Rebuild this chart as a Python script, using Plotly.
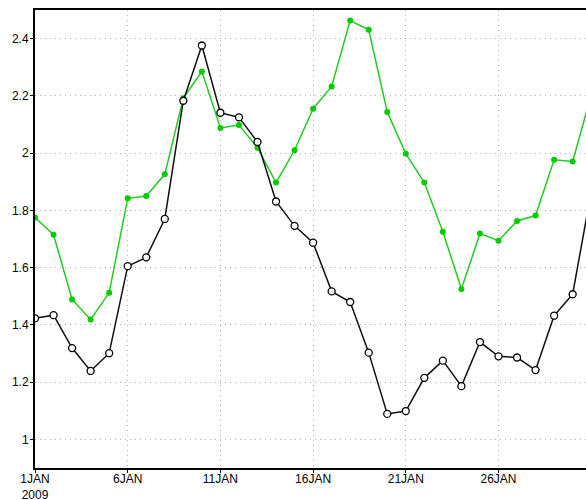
import plotly.graph_objects as go
import pandas as pd

days = pd.date_range("2009-01-01", "2009-01-31", freq="D")
black_vals = [1.423, 1.434, 1.319, 1.239, 1.301, 1.605, 1.636, 1.770, 2.183, 2.376,
              2.141, 2.125, 2.039, 1.831, 1.746, 1.687, 1.517, 1.480, 1.303, 1.089,
              1.099, 1.215, 1.275, 1.186, 1.340, 1.290, 1.286, 1.242, 1.432, 1.507, 1.865]
green_vals = [1.775, 1.715, 1.489, 1.419, 1.512, 1.842, 1.850, 1.926, 2.192, 2.285,
              2.088, 2.098, 2.019, 1.897, 2.010, 2.155, 2.233, 2.463, 2.431, 2.144,
              1.998, 1.897, 1.725, 1.525, 1.719, 1.694, 1.763, 1.782, 1.977, 1.971, 2.203]
x_tickvals = ["2009-01-01", "2009-01-06", "2009-01-11", "2009-01-16", "2009-01-21", "2009-01-26"]
x_ticktext = ["1JAN<br>2009", "6JAN", "11JAN", "16JAN", "21JAN", "26JAN"]
y_tickvals = [1, 1.2, 1.4, 1.6, 1.8, 2, 2.2, 2.4]
y_ticktext = ["1", "1.2", "1.4", "1.6", "1.8", "2", "2.2", "2.4"]

fig = go.Figure()
fig.add_trace(go.Scatter(
    x=days, y=green_vals, mode="lines+markers",
    line=dict(color="#22cc22", width=1.5),
    marker=dict(color="#00cc00", size=6, symbol="circle"),
    showlegend=False))
fig.add_trace(go.Scatter(
    x=days, y=black_vals, mode="lines+markers",
    line=dict(color="#111111", width=1.5),
    marker=dict(color="white", size=7, symbol="circle",
                line=dict(color="black", width=1.3)),
    showlegend=False))

x_end = pd.Timestamp("2009-01-01") + pd.Timedelta(days=29.72)
fig.update_layout(
    width=586, height=500,
    margin=dict(l=35, r=0, t=10, b=32),
    plot_bgcolor="white", paper_bgcolor="white",
    font=dict(family="Liberation Sans, Arial, sans-serif", size=12, color="black"),
)
grid = dict(showgrid=True, gridcolor="#b0b0b0", griddash="1px,4px", gridwidth=1,
            showline=True, linecolor="black", linewidth=2, mirror=True,
            ticks="outside", ticklen=3, tickcolor="black", zeroline=False,
            automargin=False)
fig.update_xaxes(
    range=[pd.Timestamp("2009-01-01"), x_end],
    tickvals=x_tickvals, ticktext=x_ticktext, ticklabelstandoff=-4, **grid)
fig.update_yaxes(
    range=[0.9, 2.5],
    tickvals=y_tickvals, ticktext=y_ticktext, ticklabelstandoff=-1, **grid)
fig.write_html("out.html", config={"displayModeBar": False},
               post_script="document.body.style.margin='0';document.body.style.overflow='hidden';")
